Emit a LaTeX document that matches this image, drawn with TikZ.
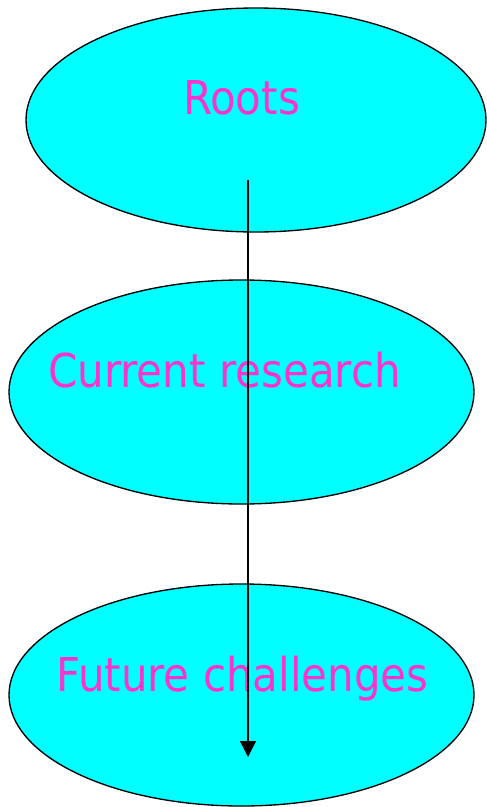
\documentclass[tikz,border=0pt]{standalone}
\usepackage{fontspec}
\setmainfont{DejaVu Sans Condensed}
\usetikzlibrary{arrows.meta,shapes.geometric}
\definecolor{bubblecyan}{RGB}{0,255,255}
\definecolor{labelpink}{RGB}{255,51,204}

\begin{document}
\begin{tikzpicture}[x=0.75pt,y=-0.75pt,
  bubble/.style={ellipse,draw=black,fill=bubblecyan,line width=1pt,inner sep=0pt},
  lab/.style={anchor=base,text=labelpink,inner sep=0pt,font=\fontsize{35}{40}\selectfont}]
\useasboundingbox (0,0) rectangle (486,807);
% the three stages
\node[bubble,minimum width=460*0.75pt,minimum height=224*0.75pt] (roots) at (256,120) {};
\node[bubble,minimum width=465*0.75pt,minimum height=224*0.75pt] (current) at (241.5,392) {};
\node[bubble,minimum width=465*0.75pt,minimum height=222*0.75pt] (future) at (241.5,695) {};
\node[lab] (rootslab) at (241.5,114) {Roots};
\node[lab] (currentlab) at (224.5,387) {Current research};
\node[lab] (futurelab) at (242.5,691) {Future challenges};
% time line
\coordinate (start) at (248,180);
\coordinate (stop) at (248,757);
\draw[-{Triangle[length=12pt,width=12pt]},line width=1pt] (start) -- (stop);
\end{tikzpicture}
\end{document}
